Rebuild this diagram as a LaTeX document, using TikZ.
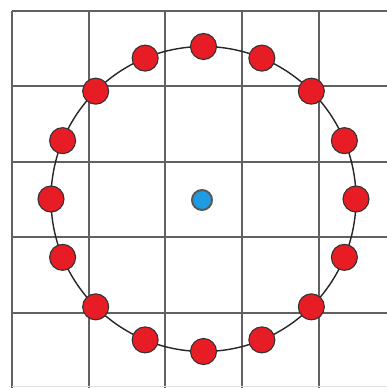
\documentclass[tikz,border=0pt]{standalone}
\usetikzlibrary{calc}
\begin{document}
\begin{tikzpicture}[x=1pt,y=-1pt,
  gridline/.style={draw=black!62, line width=1.7pt},
  reddot/.style={circle, fill={rgb,255:red,232;green,28;blue,36}, draw=black!80, line width=1.1pt, minimum size=26pt, inner sep=0pt},
  bluedot/.style={circle, fill={rgb,255:red,30;green,155;blue,225}, draw=black!65, line width=2pt, minimum size=20pt, inner sep=0pt},
  ring/.style={draw=black!85, line width=1.4pt}]
\useasboundingbox (0,0) rectangle (387,388);
\fill[white] (0,0) rectangle (387,388);
% grid
\foreach \x in {12,89,165,242,319} \draw[gridline] (\x,11) -- (\x,388);
\foreach \y in {11,86,162,237,313} \draw[gridline] (12,\y) -- (387,\y);
\draw[black!12, line width=1pt] (12,386) -- (387,386);
% ring
\coordinate (c) at (203.5,199);
\draw[ring] (c) circle[radius=152.5];
\foreach \i in {0,...,15} {
  \node[reddot] (d\i) at ($(c)+({\i*22.5}:152.5)$) {};
}
\node[bluedot] (b) at (202,200) {};
\end{tikzpicture}
\end{document}
